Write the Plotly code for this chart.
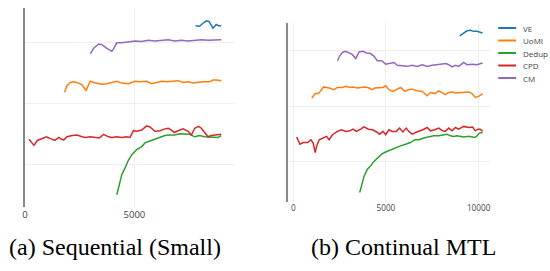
import plotly.graph_objects as go

# ---------- (a) Sequential (Small) ----------
a_ve_x = [7800, 7982, 8136, 8286, 8409, 8591, 8741, 8845, 8968]
a_ve_y = [0.728, 0.727, 0.732, 0.736, 0.735, 0.724, 0.730, 0.728, 0.728]

a_cm_x = [2982, 3136, 3364, 3514, 3741, 3968, 4045, 4195, 4423, 4727, 5027, 5332,
          5636, 5936, 6241, 6545, 6845, 7150, 7455, 7755, 8059, 8364, 8664, 8968]
a_cm_y = [0.682, 0.691, 0.698, 0.697, 0.691, 0.686, 0.690, 0.700, 0.700, 0.701, 0.703, 0.702,
          0.704, 0.703, 0.704, 0.705, 0.703, 0.704, 0.703, 0.704, 0.705, 0.704, 0.705, 0.705]

a_uomi_x = [1800, 1923, 2073, 2227, 2455, 2605, 2786, 2982, 3136, 3364, 3514, 3741, 3968,
            4195, 4423, 4727, 5027, 5255, 5559, 5786, 6014, 6241, 6468, 6695, 7000, 7227,
            7455, 7682, 7909, 8136, 8436, 8591, 8741, 8968]
a_uomi_y = [0.619, 0.630, 0.635, 0.636, 0.634, 0.631, 0.622, 0.637, 0.635, 0.633, 0.632, 0.633,
            0.635, 0.637, 0.634, 0.633, 0.637, 0.636, 0.637, 0.633, 0.635, 0.637, 0.636, 0.637,
            0.638, 0.635, 0.636, 0.634, 0.635, 0.636, 0.636, 0.639, 0.639, 0.638]

a_cpd_x = [182, 300, 409, 559, 786, 982, 1164, 1364, 1545, 1664, 1773, 1923, 2150, 2377,
           2605, 2755, 2982, 3209, 3391, 3591, 3818, 3968, 4195, 4423, 4650, 4800, 4955,
           5105, 5332, 5559, 5709, 5936, 6164, 6391, 6545, 6695, 6818, 7000, 7227, 7455,
           7605, 7755, 7936, 8059, 8209, 8364, 8514, 8741, 8968]
a_cpd_y = [0.542, 0.537, 0.532, 0.540, 0.543, 0.546, 0.543, 0.540, 0.545, 0.542, 0.541, 0.546,
           0.548, 0.549, 0.546, 0.545, 0.546, 0.545, 0.544, 0.550, 0.546, 0.545, 0.546, 0.545,
           0.546, 0.545, 0.556, 0.555, 0.557, 0.564, 0.562, 0.555, 0.556, 0.559, 0.560, 0.557,
           0.553, 0.556, 0.559, 0.555, 0.549, 0.560, 0.563, 0.560, 0.553, 0.546, 0.548, 0.549,
           0.550]

a_dedup_x = [4195, 4300, 4423, 4573, 4727, 4909, 5105, 5332, 5482, 5709, 5936, 6164, 6391,
             6618, 6845, 7073, 7300, 7527, 7755, 7982, 8209, 8436, 8664, 8818, 8968]
a_dedup_y = [0.451, 0.467, 0.484, 0.495, 0.508, 0.518, 0.525, 0.530, 0.536, 0.539, 0.542, 0.546,
             0.548, 0.549, 0.549, 0.551, 0.551, 0.550, 0.546, 0.548, 0.546, 0.546, 0.546, 0.545,
             0.548]

# ---------- (b) Continual MTL ----------
b_ve_x = [8978, 9161, 9376, 9553, 9731, 9914, 10091, 10214]
b_ve_y = [0.727, 0.731, 0.736, 0.737, 0.735, 0.735, 0.734, 0.732]

b_cm_x = [2387, 2511, 2656, 2796, 2978, 3193, 3371, 3548, 3763, 3946, 4177, 4355, 4537, 4769,
          4984, 5199, 5430, 5613, 5881, 6150, 6419, 6688, 6957, 7225, 7494, 7763, 8032, 8247,
          8387, 8569, 8747, 8924, 9193, 9376, 9645, 9913, 10214]
b_cm_y = [0.682, 0.691, 0.697, 0.699, 0.697, 0.693, 0.686, 0.698, 0.699, 0.696, 0.695, 0.690,
          0.682, 0.682, 0.676, 0.678, 0.679, 0.674, 0.673, 0.672, 0.674, 0.672, 0.675, 0.672,
          0.674, 0.675, 0.675, 0.677, 0.675, 0.671, 0.674, 0.672, 0.679, 0.675, 0.676, 0.675,
          0.678]

b_uomi_x = [1005, 1183, 1366, 1452, 1634, 1935, 2204, 2387, 2656, 2833, 3048, 3226, 3462, 3640,
            3908, 4086, 4231, 4408, 4623, 4838, 4984, 5161, 5376, 5559, 5790, 6021, 6204, 6419,
            6688, 6957, 7225, 7403, 7634, 7849, 8032, 8209, 8387, 8602, 8747, 8962, 9193, 9462,
            9645, 9822, 10000, 10214]
b_uomi_y = [0.615, 0.623, 0.623, 0.627, 0.635, 0.633, 0.630, 0.634, 0.634, 0.636, 0.634, 0.635,
            0.633, 0.634, 0.635, 0.633, 0.630, 0.633, 0.634, 0.634, 0.637, 0.630, 0.627, 0.630,
            0.634, 0.627, 0.630, 0.631, 0.628, 0.627, 0.619, 0.625, 0.623, 0.628, 0.624, 0.621,
            0.625, 0.626, 0.624, 0.625, 0.625, 0.626, 0.623, 0.616, 0.618, 0.623]

b_cpd_x = [183, 360, 538, 774, 952, 1075, 1183, 1258, 1398, 1581, 1796, 1935, 2118, 2387, 2602,
           2833, 3048, 3226, 3408, 3640, 3817, 4054, 4269, 4500, 4661, 4838, 4984, 5161, 5344,
           5559, 5736, 5914, 6096, 6236, 6419, 6596, 6811, 6989, 7225, 7403, 7634, 7849, 8064,
           8209, 8387, 8569, 8747, 8924, 9193, 9462, 9677, 9822, 9967, 10091, 10214]
b_cpd_y = [0.545, 0.532, 0.535, 0.535, 0.540, 0.534, 0.517, 0.528, 0.540, 0.543, 0.546, 0.540,
           0.549, 0.555, 0.558, 0.555, 0.556, 0.559, 0.555, 0.559, 0.563, 0.559, 0.558, 0.554,
           0.550, 0.555, 0.549, 0.558, 0.555, 0.555, 0.561, 0.554, 0.561, 0.555, 0.550, 0.553,
           0.555, 0.558, 0.562, 0.556, 0.558, 0.561, 0.556, 0.555, 0.561, 0.556, 0.562, 0.559,
           0.564, 0.562, 0.563, 0.556, 0.559, 0.559, 0.555]

b_dedup_x = [3586, 3693, 3817, 4000, 4177, 4355, 4537, 4769, 4984, 5252, 5521, 5790, 6059, 6328,
             6559, 6774, 7043, 7311, 7580, 7849, 8118, 8301, 8478, 8655, 8838, 9015, 9193, 9376,
             9553, 9784, 9913, 10037, 10214]
b_dedup_y = [0.445, 0.459, 0.474, 0.487, 0.493, 0.501, 0.507, 0.514, 0.518, 0.522, 0.525, 0.529,
             0.532, 0.535, 0.540, 0.540, 0.543, 0.545, 0.547, 0.547, 0.549, 0.550, 0.547, 0.546,
             0.547, 0.546, 0.545, 0.546, 0.546, 0.544, 0.547, 0.552, 0.553]

names = ["VE", "UoMI", "Dedup", "CPD", "CM"]
colors = ["#1f77b4", "#ff7f0e", "#2ca02c", "#d62728", "#9467bd"]
captions = ["(a) Sequential (Small)", "(b) Continual MTL"]
a_ticks = [0, 5000]
b_ticks = [0, 5000, 10000]

a_series = [(a_ve_x, a_ve_y), (a_uomi_x, a_uomi_y), (a_dedup_x, a_dedup_y),
            (a_cpd_x, a_cpd_y), (a_cm_x, a_cm_y)]
b_series = [(b_ve_x, b_ve_y), (b_uomi_x, b_uomi_y), (b_dedup_x, b_dedup_y),
            (b_cpd_x, b_cpd_y), (b_cm_x, b_cm_y)]

fig = go.Figure()
for (x, y), n, c in zip(a_series, names, colors):
    fig.add_trace(go.Scatter(x=x, y=y, mode="lines", name=n, line=dict(color=c, width=1.5),
                             showlegend=False, xaxis="x", yaxis="y"))
for (x, y), n, c in zip(b_series, names, colors):
    fig.add_trace(go.Scatter(x=x, y=y, mode="lines", name=n, line=dict(color=c, width=1.5),
                             showlegend=False, xaxis="x2", yaxis="y2"))

W, H = 550, 271
def px_x(p):
    return p / W
def px_y(p):
    return 1 - p / H

xcommon = dict(showline=False, showgrid=True, gridcolor="#eeeeee", gridwidth=1, zeroline=False,
               ticks="", tickformat="d")
ycommon = dict(showline=True, linecolor="#888888", linewidth=1.5, showgrid=True,
               gridcolor="#eeeeee", gridwidth=1, zeroline=False, showticklabels=False,
               tick0=0.5, dtick=0.1, ticks="")

# compact legend (drawn as layout shapes + texts)
shapes = []
annotations = []
leg_rows = [28, 40.5, 53, 65.5, 78]
for n, c, ry in zip(names, colors, leg_rows):
    shapes.append(dict(type="line", xref="paper", yref="paper",
                       x0=px_x(498), x1=px_x(516), y0=px_y(ry), y1=px_y(ry),
                       line=dict(color=c, width=2)))
    annotations.append(dict(text=n, x=px_x(521), y=px_y(ry), xref="paper", yref="paper",
                            showarrow=False, xanchor="left", yanchor="middle",
                            font=dict(size=8, color="#444")))

serif = "Liberation Serif"
annotations.append(dict(text=captions[0], x=px_x(113), y=px_y(247), xref="paper", yref="paper",
                        showarrow=False, xanchor="center", yanchor="middle",
                        font=dict(family=serif, size=24, color="black")))
annotations.append(dict(text=captions[1], x=px_x(403), y=px_y(247), xref="paper", yref="paper",
                        showarrow=False, xanchor="center", yanchor="middle",
                        font=dict(family=serif, size=24, color="black")))

fig.update_layout(
    width=W, height=H,
    margin=dict(l=0, r=0, t=0, b=0),
    paper_bgcolor="white", plot_bgcolor="white",
    font=dict(family="Open Sans, Arial, sans-serif", color="#444"),
    showlegend=False,
    xaxis=dict(domain=[px_x(22.7), px_x(234)], range=[-20, 9605], tickvals=a_ticks,
               tickfont=dict(size=9.5, color="#444"), **xcommon),
    yaxis=dict(domain=[px_y(207), px_y(8)], range=[0.431, 0.757], anchor="x", **ycommon),
    xaxis2=dict(domain=[px_x(287.3), px_x(491)], range=[-270, 10680], tickvals=b_ticks,
                tickfont=dict(size=8.2, color="#444"), anchor="y2", **xcommon),
    yaxis2=dict(domain=[px_y(202), px_y(23)], range=[0.428, 0.750], anchor="x2", **ycommon),
    shapes=shapes,
    annotations=annotations,
)

fig.write_html("out.html", config={"displayModeBar": False},
               post_script="document.body.style.margin='0';document.body.style.overflow='hidden';")
